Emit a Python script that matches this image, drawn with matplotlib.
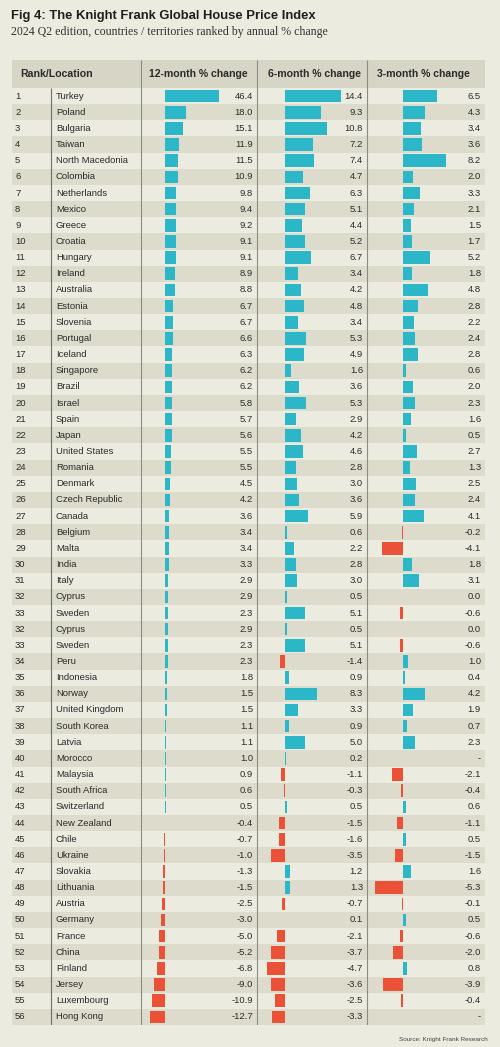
import matplotlib
matplotlib.use("Agg")
import matplotlib.pyplot as plt
import numpy as np

# ---- data (rows 32/33 appear twice in the original) ----
ranks = [1, 2, 3, 4, 5, 6, 7, 8, 9, 10, 11, 12, 13, 14, 15, 16, 17, 18, 19, 20,
         21, 22, 23, 24, 25, 26, 27, 28, 29, 30, 31, 32, 33, 32, 33, 34, 35, 36,
         37, 38, 39, 40, 41, 42, 43, 44, 45, 46, 47, 48, 49, 50, 51, 52, 53, 54,
         55, 56]
locations = ["Turkey", "Poland", "Bulgaria", "Taiwan", "North Macedonia", "Colombia",
             "Netherlands", "Mexico", "Greece", "Croatia", "Hungary", "Ireland",
             "Australia", "Estonia", "Slovenia", "Portugal", "Iceland", "Singapore",
             "Brazil", "Israel", "Spain", "Japan", "United States", "Romania",
             "Denmark", "Czech Republic", "Canada", "Belgium", "Malta", "India",
             "Italy", "Cyprus", "Sweden", "Cyprus", "Sweden", "Peru", "Indonesia",
             "Norway", "United Kingdom", "South Korea", "Latvia", "Morocco",
             "Malaysia", "South Africa", "Switzerland", "New Zealand", "Chile",
             "Ukraine", "Slovakia", "Lithuania", "Austria", "Germany", "France",
             "China", "Finland", "Jersey", "Luxembourg", "Hong Kong"]
chg_12m = [46.4, 18.0, 15.1, 11.9, 11.5, 10.9, 9.8, 9.4, 9.2, 9.1, 9.1, 8.9, 8.8,
           6.7, 6.7, 6.6, 6.3, 6.2, 6.2, 5.8, 5.7, 5.6, 5.5, 5.5, 4.5, 4.2, 3.6,
           3.4, 3.4, 3.3, 2.9, 2.9, 2.3, 2.9, 2.3, 2.3, 1.8, 1.5, 1.5, 1.1, 1.1,
           1.0, 0.9, 0.6, 0.5, -0.4, -0.7, -1.0, -1.3, -1.5, -2.5, -3.0, -5.0,
           -5.2, -6.8, -9.0, -10.9, -12.7]
chg_6m = [14.4, 9.3, 10.8, 7.2, 7.4, 4.7, 6.3, 5.1, 4.4, 5.2, 6.7, 3.4, 4.2, 4.8,
          3.4, 5.3, 4.9, 1.6, 3.6, 5.3, 2.9, 4.2, 4.6, 2.8, 3.0, 3.6, 5.9, 0.6,
          2.2, 2.8, 3.0, 0.5, 5.1, 0.5, 5.1, -1.4, 0.9, 8.3, 3.3, 0.9, 5.0, 0.2,
          -1.1, -0.3, 0.5, -1.5, -1.6, -3.5, 1.2, 1.3, -0.7, 0.1, -2.1, -3.7,
          -4.7, -3.6, -2.5, -3.3]
chg_3m = [6.5, 4.3, 3.4, 3.6, 8.2, 2.0, 3.3, 2.1, 1.5, 1.7, 5.2, 1.8, 4.8, 2.8,
          2.2, 2.4, 2.8, 0.6, 2.0, 2.3, 1.6, 0.5, 2.7, 1.3, 2.5, 2.4, 4.1, -0.2,
          -4.1, 1.8, 3.1, 0.0, -0.6, 0.0, -0.6, 1.0, 0.4, 4.2, 1.9, 0.7, 2.3,
          np.nan, -2.1, -0.4, 0.6, -1.1, 0.5, -1.5, 1.6, -5.3, -0.1, 0.5, -0.6,
          -2.0, 0.8, -3.9, -0.4, np.nan]

title = "Fig 4: The Knight Frank Global House Price Index"
subtitle = "2024 Q2 edition, countries / territories ranked by annual % change"
col_headers = ["Rank/Location", "12-month % change", "6-month % change", "3-month % change"]
source = "Source: Knight Frank Research"

# ---- style ----
BG = "#ecebe0"
STRIPE = "#dcdbcc"
HEADER = "#d6d5c6"
TEAL = "#2bb7c8"
RED = "#ea5136"
TEXT = "#2b2b2b"
LINE = "#8c8c84"

plt.rcParams["font.family"] = ["Liberation Sans", "DejaVu Sans"]

W, H = 500, 1047
n = len(locations)
top_px, head_px, bottom_px = 60, 88, 1025
pitch = (bottom_px - head_px) / n
hdr = (head_px - top_px) / pitch

fig = plt.figure(figsize=(W / 100, H / 100), dpi=100, facecolor=BG)

page = fig.add_axes([0, 0, 1, 1])
page.set_xlim(0, W)
page.set_ylim(H, 0)
page.axis("off")
page.text(11, 16, title, fontsize=9.4, fontweight="bold", color="#1e1e1e", va="center")
page.text(11, 32, subtitle, fontsize=8.6, color="#333333", va="center",
          family=["Liberation Serif", "DejaVu Serif"])
page.text(488, 1040, source, fontsize=4.6, color="#444444", ha="right", va="center")

# table axes: x in pixels, y in row index
tab_rect = [0, 1 - bottom_px / H, 1, (bottom_px - top_px) / H]
tab = fig.add_axes(tab_rect)
tab.set_xlim(0, W)
tab.set_ylim(n - 0.5, -0.5 - hdr)
tab.axis("off")

x0, x1 = 12, 485
tab.axhspan(-0.5 - hdr, -0.5, xmin=x0 / W, xmax=x1 / W, color=HEADER, lw=0)
for i in range(1, n, 2):
    tab.axhspan(i - 0.5, i + 0.5, xmin=x0 / W, xmax=x1 / W, color=STRIPE, lw=0)

tab.vlines([141, 257, 367], -0.5 - hdr, n - 0.5, color=LINE, lw=0.8)
tab.vlines([51], -0.5, n - 0.5, color="#6e6e66", lw=0.8)

hy = -0.5 - hdr / 2
tab.text(20, hy, col_headers[0], fontsize=7.6, fontweight="bold", color=TEXT, va="center")
for cx, label in zip([198, 314, 423], col_headers[1:]):
    tab.text(cx, hy, label, fontsize=7.6, fontweight="bold", color=TEXT, va="center", ha="center")


def fmt(v):
    return "-" if np.isnan(v) else f"{v:.1f}"


for i in range(n):
    tab.text(15, i, str(ranks[i]), fontsize=6.8, color=TEXT, va="center")
    tab.text(56, i, locations[i], fontsize=6.8, color=TEXT, va="center")
    tab.text(253, i, fmt(chg_12m[i]), fontsize=6.8, color=TEXT, va="center", ha="right")
    tab.text(363, i, fmt(chg_6m[i]), fontsize=6.8, color=TEXT, va="center", ha="right")
    tab.text(481, i, fmt(chg_3m[i]), fontsize=6.8, color=TEXT, va="center", ha="right")

# bar columns: (values, left px, right px, zero px, px per unit)
columns = [
    (chg_12m, 141, 257, 165, 1.17),
    (chg_6m, 257, 367, 285, 3.9),
    (chg_3m, 367, 485, 403, 5.2),
]
ypos = np.arange(n)
for vals, lpx, rpx, zpx, scale in columns:
    vals = np.asarray(vals, dtype=float)
    bax = fig.add_axes([lpx / W, tab_rect[1], (rpx - lpx) / W, tab_rect[3]])
    bax.set_xlim(-(zpx - lpx) / scale, (rpx - zpx) / scale)
    bax.set_ylim(n - 0.5, -0.5 - hdr)
    bax.axis("off")
    bax.patch.set_alpha(0)
    ok = ~np.isnan(vals)
    colors = [TEAL if v >= 0 else RED for v in vals[ok]]
    bax.barh(ypos[ok], vals[ok], height=0.78, color=colors, lw=0)

fig.savefig("out.png", dpi=100, facecolor=BG)
